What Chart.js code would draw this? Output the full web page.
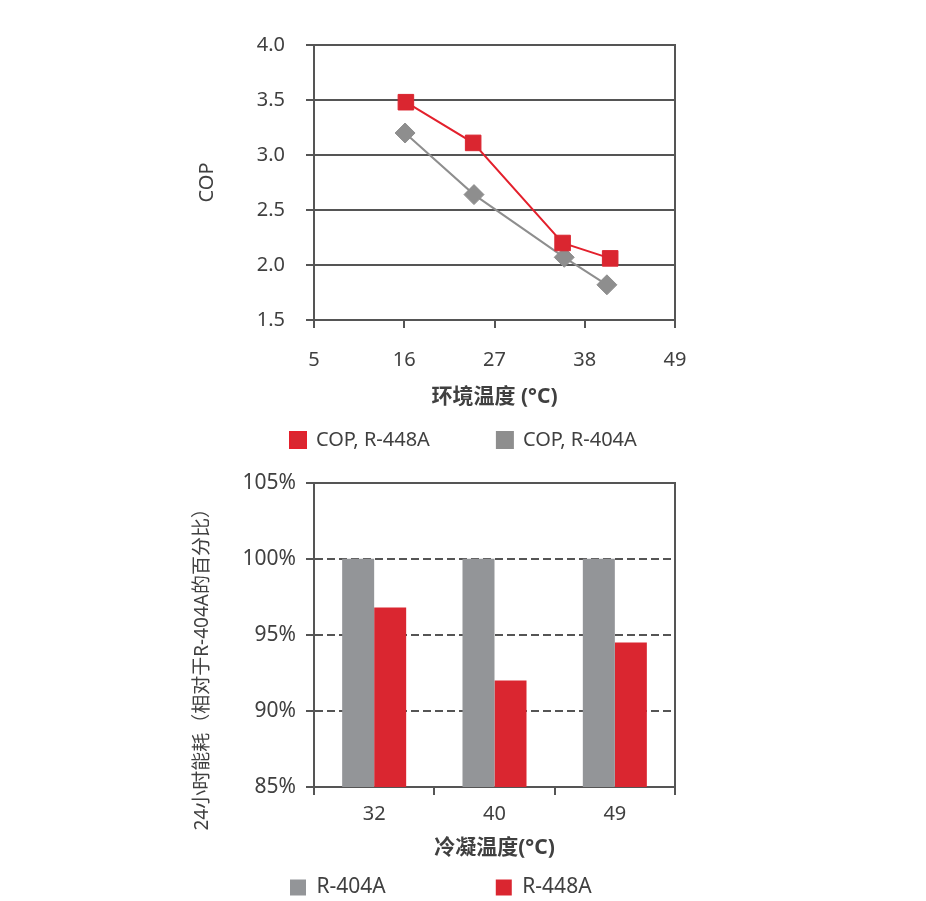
<!DOCTYPE html>
<html>
<head>
<meta charset="utf-8">
<script src="https://cdn.jsdelivr.net/npm/chart.js@4.4.1/dist/chart.umd.min.js"></script>
<style>
  body { margin: 0; background: #fff; width: 926px; height: 901px; position: relative; overflow: hidden; }
  canvas { position: absolute; left: 0; }
  #copChart { top: 0; }
  #energyChart { top: 460px; }
</style>
</head>
<body>
<canvas id="copChart" width="926" height="460"></canvas>
<canvas id="energyChart" width="926" height="441"></canvas>
<script>
// --- top chart: COP vs ambient temperature
const ambientTemps448 = [16.2, 24.4, 35.3, 41.1];
const cop448 = [3.48, 3.11, 2.20, 2.06];
const ambientTemps404 = [16.1, 24.5, 35.5, 40.7];
const cop404 = [3.20, 2.64, 2.07, 1.82];
const ambientTicks = [5, 16, 27, 38, 49];

// --- bottom chart: 24h energy relative to R-404A
const condensingTemps = ['32', '40', '49'];
const energy404 = [100, 100, 100];
const energy448 = [96.8, 92.0, 94.5];

const FONT = "'Noto Sans', 'Noto Sans CJK SC', sans-serif";
const TEXT = '#404040';
const AXIS = '#555555';
const RED = '#DA2630';
const GREY = '#939598';

Chart.defaults.font.family = FONT;
Chart.defaults.color = TEXT;

// moves the legend box by a fixed offset after layout
// (bottom is stretched too, the legend clips to its own box)
const legendNudge = {
  id: 'legendNudge',
  afterLayout(chart, args, opts) {
    const lg = chart.legend;
    if (!lg) return;
    lg.left += opts.dx; lg.right += opts.dx;
    lg.top += opts.dy; lg.bottom += opts.dy + 200;
  }
};

// rotated y title that may run longer than the plot height
const sideTitle = {
  id: 'sideTitle',
  afterDraw(chart, args, opts) {
    const {ctx, chartArea, scales} = chart;
    ctx.save();
    ctx.font = opts.size + 'px ' + FONT;
    ctx.fillStyle = TEXT;
    ctx.textAlign = 'center';
    ctx.textBaseline = 'middle';
    ctx.translate(scales.y.left + opts.offsetX, (chartArea.top + chartArea.bottom) / 2 + opts.offsetY);
    ctx.rotate(-Math.PI / 2);
    ctx.fillText(opts.text, 0, 0);
    ctx.restore();
  }
};

new Chart(document.getElementById('copChart'), {
  type: 'line',
  data: {
    datasets: [{
      label: 'COP, R-448A',
      data: ambientTemps448.map((t, i) => ({x: t, y: cop448[i]})),
      borderColor: '#E3202C',
      backgroundColor: RED,
      borderWidth: 2,
      pointStyle: 'rect',
      pointRadius: 11,
      pointBorderWidth: 1,
      pointBorderColor: RED,
      pointBackgroundColor: RED
    }, {
      label: 'COP, R-404A',
      data: ambientTemps404.map((t, i) => ({x: t, y: cop404[i]})),
      borderColor: '#8E8E8E',
      backgroundColor: '#8E8E8E',
      borderWidth: 2,
      pointStyle: 'rectRot',
      pointRadius: 10,
      pointBorderWidth: 1,
      pointBorderColor: '#8E8E8E',
      pointBackgroundColor: '#8E8E8E'
    }]
  },
  options: {
    responsive: false,
    devicePixelRatio: 1,
    animation: false,
    layout: { padding: { left: 190, right: 100, top: 45, bottom: 10 } },
    scales: {
      x: {
        type: 'linear',
        min: 5,
        max: 49,
        afterBuildTicks: s => { s.ticks = ambientTicks.map(v => ({value: v})); },
        afterFit: s => { s.height = 90; },
        ticks: { font: { size: 20 }, padding: 20 },
        grid: { drawOnChartArea: false, color: AXIS, lineWidth: 2, tickLength: 8 },
        border: { color: AXIS, width: 2 },
        title: { display: true, text: '环境温度 (°C)', font: { size: 21, weight: 'bold' }, padding: { top: 0, bottom: 0 } }
      },
      y: {
        min: 1.5,
        max: 4.0,
        ticks: { stepSize: 0.5, font: { size: 20 }, padding: 21, callback: v => v.toFixed(1) },
        afterFit: s => { s.width = 124; },
        grid: { color: AXIS, lineWidth: 2, tickLength: 8 },
        border: { color: AXIS, width: 2 },
        title: { display: true, text: 'COP', font: { size: 20 }, padding: { top: 5, bottom: 0 } }
      },
      y2: {
        position: 'right',
        ticks: { display: false },
        grid: { drawOnChartArea: false, drawTicks: false },
        border: { color: AXIS, width: 2 },
        afterFit: s => { s.width = 151; }
      }
    },
    plugins: {
      tooltip: { enabled: false },
      legend: {
        position: 'bottom',
        align: 'start',
        maxHeight: 40,
        labels: { boxWidth: 16, boxHeight: 16, padding: 67, font: { size: 20 }, color: TEXT }
      },
      legendNudge: { dx: 33, dy: -47 }
    }
  },
  plugins: [legendNudge]
});

new Chart(document.getElementById('energyChart'), {
  type: 'bar',
  data: {
    labels: condensingTemps,
    datasets: [{
      label: 'R-404A',
      data: energy404,
      backgroundColor: GREY,
      borderWidth: 0
    }, {
      label: 'R-448A',
      data: energy448,
      backgroundColor: RED,
      borderWidth: 0
    }]
  },
  options: {
    responsive: false,
    devicePixelRatio: 1,
    animation: false,
    layout: { padding: { left: 190, right: 100, top: 21, bottom: 9 } },
    datasets: { bar: { categoryPercentage: 0.532, barPercentage: 1 } },
    scales: {
      x: {
        type: 'category',
        offset: true,
        afterFit: s => { s.height = 75; },
        ticks: { font: { size: 20 }, padding: 7 },
        grid: { offset: true, drawOnChartArea: false, color: AXIS, lineWidth: 2, tickLength: 8 },
        border: { color: AXIS, width: 2 },
        title: { display: true, text: '冷凝温度(°C)', font: { size: 21, weight: 'bold' }, padding: { top: 0, bottom: 1 } }
      },
      x2: {
        type: 'category',
        position: 'top',
        labels: condensingTemps,
        ticks: { display: false },
        grid: { display: false, drawTicks: false },
        border: { color: AXIS, width: 2 },
        afterFit: s => { s.height = 0; }
      },
      y: {
        min: 85,
        max: 105,
        ticks: { stepSize: 5, font: { size: 21 }, padding: 10, callback: v => v + '%' },
        afterFit: s => { s.width = 124; },
        grid: {
          color: c => (c.tick && c.tick.value === 105) ? 'rgba(0,0,0,0)' : AXIS,
          tickColor: AXIS,
          lineWidth: 2,
          tickLength: 8
        },
        border: { color: AXIS, width: 2, dash: [8, 4] }
      },
      y2: {
        position: 'right',
        ticks: { display: false },
        grid: { drawOnChartArea: false, drawTicks: false },
        border: { color: AXIS, width: 2 },
        afterFit: s => { s.width = 151; }
      }
    },
    plugins: {
      tooltip: { enabled: false },
      legend: {
        position: 'bottom',
        align: 'start',
        maxHeight: 30,
        labels: { boxWidth: 16, boxHeight: 16, padding: 110, font: { size: 21 }, color: TEXT }
      },
      legendNudge: { dx: -10, dy: -95 },
      sideTitle: { text: '24小时能耗（相对于R-404A的百分比）', size: 19, offsetX: 13, offsetY: 30 }
    }
  },
  plugins: [legendNudge, sideTitle]
});
</script>
</body>
</html>
